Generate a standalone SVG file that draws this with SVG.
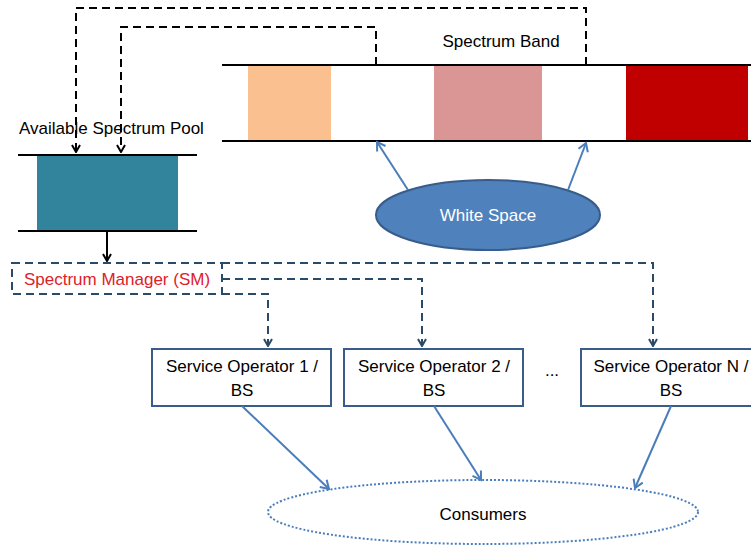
<svg xmlns="http://www.w3.org/2000/svg" width="751" height="546" viewBox="0 0 751 546">
<defs>
<style>
text{font-family:"Liberation Sans",Arial,sans-serif;font-size:17px;fill:#000}
.blk{fill:none;stroke:#000;stroke-width:2}
.bdash{fill:none;stroke:#000;stroke-width:2;stroke-dasharray:8 5}
.ndash{fill:none;stroke:#2B4A68;stroke-width:2;stroke-dasharray:8 5}
.blue{fill:none;stroke:#4A7EBB;stroke-width:2}
.so{fill:#fff;stroke:#385D8A;stroke-width:2}
</style>
<marker id="ab" markerWidth="10" markerHeight="10" refX="9" refY="5" orient="auto" markerUnits="userSpaceOnUse">
<path d="M2,1 L9,5 L2,9" fill="none" stroke="#000" stroke-width="2"/>
</marker>
<marker id="an" markerWidth="10" markerHeight="10" refX="9" refY="5" orient="auto" markerUnits="userSpaceOnUse">
<path d="M2,1 L9,5 L2,9" fill="none" stroke="#2B4A68" stroke-width="2"/>
</marker>
<marker id="aw" markerWidth="12" markerHeight="12" refX="10" refY="6" orient="auto" markerUnits="userSpaceOnUse">
<path d="M2,1 L10,6 L2,11" fill="none" stroke="#4A7EBB" stroke-width="2"/>
</marker>
</defs>

<g id="spectrum-band">
<rect x="248" y="65" width="83" height="76" fill="#FAC090"/>
<rect x="434" y="65" width="108" height="76" fill="#D99694"/>
<rect x="626" y="65" width="122" height="76" fill="#C00000"/>
<line class="blk" x1="222" y1="65" x2="751" y2="65"/>
<line class="blk" x1="222" y1="141" x2="751" y2="141"/>
<text x="501" y="47" text-anchor="middle">Spectrum Band</text>
</g>

<g id="pool">
<rect x="37" y="155" width="141" height="76" fill="#31849B"/>
<line class="blk" x1="18" y1="155" x2="197" y2="155"/>
<line class="blk" x1="18" y1="231" x2="197" y2="231"/>
<text x="19" y="134">Available Spectrum Pool</text>
</g>

<g id="white-space">
<ellipse cx="488" cy="215" rx="112" ry="35" fill="#4F81BD" stroke="#385D8A" stroke-width="2"/>
<text x="488" y="221" text-anchor="middle" style="fill:#fff">White Space</text>
</g>

<g id="sm">
<rect x="12" y="263" width="210" height="31" class="ndash"/>
<text x="117" y="285" text-anchor="middle" style="fill:#E0202A">Spectrum Manager (SM)</text>
</g>

<g id="so1">
<rect class="so" x="152" y="349" width="179" height="57"/>
<text x="242" y="372" text-anchor="middle">Service Operator 1 /</text>
<text x="242" y="396" text-anchor="middle">BS</text>
</g>
<g id="so2">
<rect class="so" x="344" y="349" width="179" height="57"/>
<text x="434" y="372" text-anchor="middle">Service Operator 2 /</text>
<text x="434" y="396" text-anchor="middle">BS</text>
</g>
<g id="ellipsis">
<text x="552" y="376" text-anchor="middle">...</text>
</g>
<g id="soN">
<rect class="so" x="581" y="349" width="180" height="57"/>
<text x="671" y="372" text-anchor="middle">Service Operator N /</text>
<text x="671" y="396" text-anchor="middle">BS</text>
</g>

<g id="consumers">
<ellipse cx="483" cy="512" rx="215" ry="32" fill="none" stroke="#4A7EBB" stroke-width="2" stroke-dasharray="2 2"/>
<text x="483" y="520" text-anchor="middle">Consumers</text>
</g>

<g id="connectors">
<path class="bdash" d="M586,65 V8 H76 V152" marker-end="url(#ab)"/>
<path class="bdash" d="M376,65 V27 H121 V152" marker-end="url(#ab)"/>
<path class="blk" d="M107,231 V261" marker-end="url(#ab)"/>
<path class="ndash" d="M222,263 H653 V346" marker-end="url(#an)"/>
<path class="ndash" d="M222,279 H422 V346" marker-end="url(#an)"/>
<path class="ndash" d="M222,294 H268 V346" marker-end="url(#an)"/>
<path class="blue" d="M408,190 L377,142" marker-end="url(#aw)"/>
<path class="blue" d="M568,190 L586,143" marker-end="url(#aw)"/>
<path class="blue" d="M242,406 L329,489" marker-end="url(#aw)"/>
<path class="blue" d="M434,406 L481,480" marker-end="url(#aw)"/>
<path class="blue" d="M671,406 L635,488" marker-end="url(#aw)"/>
</g>
</svg>
